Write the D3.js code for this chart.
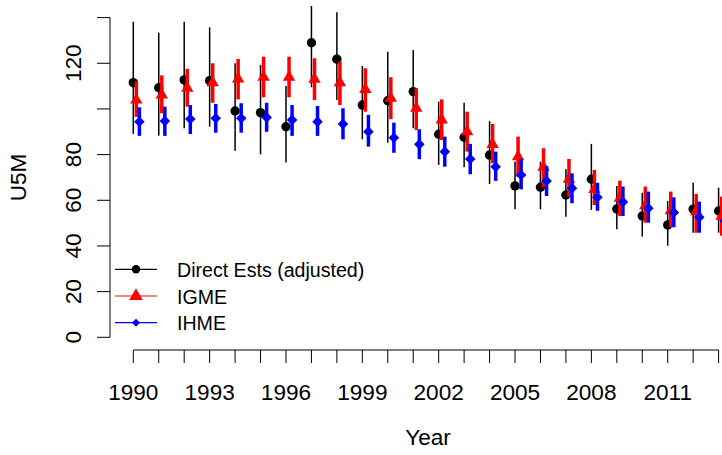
<!DOCTYPE html>
<html>
<head>
<meta charset="utf-8">
<script src="https://cdn.jsdelivr.net/npm/d3@7"></script>
<style>
  html, body { margin: 0; padding: 0; background: #fff; }
  svg { display: block; font-family: "Liberation Sans", Arial, sans-serif; }
</style>
</head>
<body>
<svg id="chart" width="722" height="455"></svg>
<script>
// Under-five mortality (per 1000) by year, three sources with uncertainty bounds
const years = d3.range(1990, 2014);

const directEst = [111.5, 109.3, 112.7, 112.4, 99.1, 98.4, 92.2, 129.0, 121.8, 101.7, 103.6, 107.6,
                   88.9, 87.6, 79.8, 66.3, 65.7, 62.3, 69.2, 56.2, 53.1, 49.2, 56.1, 55.3];
const directLo  = [89.0, 88.3, 91.5, 92.2, 81.7, 80.1, 76.5, 109.5, 103.9, 86.7, 85.2, 91.5,
                   75.5, 74.5, 67.1, 56.1, 56.1, 52.8, 55.8, 47.3, 44.1, 40.1, 45.8, 45.8];
const directHi  = [138.2, 133.4, 138.2, 135.8, 120.0, 119.3, 110.1, 145.1, 142.3, 118.8, 125.1, 125.8,
                   103.2, 102.7, 94.7, 77.0, 76.9, 73.6, 84.7, 66.3, 63.3, 59.7, 67.7, 65.5];

const igme   = [103.9, 106.1, 109.1, 111.5, 113.1, 113.9, 113.9, 113.0, 111.5, 108.6, 104.7, 100.3,
                95.2, 90.0, 84.5, 79.1, 74.5, 69.2, 64.8, 60.9, 57.6, 55.4, 55.0, 53.0];
const igmeLo = [96.5, 98.1, 101.0, 102.7, 104.2, 105.1, 105.1, 103.9, 101.7, 98.8, 95.5, 90.8,
                86.4, 81.3, 76.2, 70.3, 65.7, 61.6, 57.9, 53.1, 50.2, 48.2, 45.8, 44.5];
const igmeHi = [112.0, 114.7, 117.6, 120.0, 121.9, 122.9, 122.9, 122.2, 120.7, 117.8, 113.9, 109.0,
                104.2, 98.8, 93.4, 87.9, 82.8, 78.1, 73.3, 68.6, 66.0, 63.8, 62.8, 61.6];

const ihme   = [94.4, 94.7, 95.6, 95.9, 95.9, 96.3, 95.2, 94.4, 93.4, 90.0, 87.4, 84.5,
                81.3, 78.1, 74.7, 71.1, 68.5, 65.3, 61.3, 59.3, 56.5, 54.6, 52.6, 51.0];
const ihmeLo = [88.2, 88.2, 89.0, 89.6, 89.6, 90.0, 88.2, 88.2, 86.7, 83.5, 80.8, 78.0,
                74.7, 71.4, 68.5, 64.8, 61.9, 58.7, 55.4, 53.1, 50.2, 48.2, 45.8, 44.5];
const ihmeHi = [100.7, 101.0, 101.7, 102.2, 102.5, 102.7, 101.7, 101.3, 100.3, 97.4, 94.0, 91.1,
                87.9, 84.7, 81.3, 78.0, 75.0, 71.8, 67.7, 66.0, 63.8, 61.3, 59.4, 58.0];

const xTickValues = d3.range(1990, 2014);
const xTickLabels = [1990, 1993, 1996, 1999, 2002, 2005, 2008, 2011];
const yTickValues = [0, 20, 40, 60, 80, 100, 120, 140];
const yTickLabels = [0, 20, 40, 60, 80, 120];

const seriesNames = ["Direct Ests (adjusted)", "IGME", "IHME"];
const seriesColors = ["#000000", "#ff0000", "#0000ff"];

const svg = d3.select("#chart");

const x = d3.scaleLinear().domain([1990, 2013]).range([133.3, 718.6]);
const y = d3.scaleLinear().domain([0, 140]).range([337.3, 17.6]);

const AXIS_FONT = 22.6;

// ---- axes ----
const yAxisX = 110;
const xAxisY = 350;

const gy = svg.append("g").attr("transform", `translate(${yAxisX},0)`);
gy.append("line")
  .attr("x1", 0).attr("x2", 0)
  .attr("y1", y(0)).attr("y2", y(140))
  .attr("stroke", "#000").attr("stroke-width", 1);
gy.selectAll("line.tick").data(yTickValues).join("line")
  .attr("class", "tick")
  .attr("x1", 0).attr("x2", -13)
  .attr("y1", d => y(d)).attr("y2", d => y(d))
  .attr("stroke", "#000").attr("stroke-width", 1);
svg.selectAll("text.ylab").data(yTickLabels).join("text")
  .attr("class", "ylab")
  .attr("transform", d => `translate(80.5,${y(d)}) rotate(-90)`)
  .attr("text-anchor", "middle")
  .attr("font-size", AXIS_FONT)
  .attr("fill", "#000")
  .text(d => d);

const gx = svg.append("g").attr("transform", `translate(0,${xAxisY})`);
gx.append("line")
  .attr("x1", x(1990)).attr("x2", x(2013))
  .attr("y1", 0).attr("y2", 0)
  .attr("stroke", "#000").attr("stroke-width", 1);
gx.selectAll("line.tick").data(xTickValues).join("line")
  .attr("class", "tick")
  .attr("x1", d => x(d)).attr("x2", d => x(d))
  .attr("y1", 0).attr("y2", 13)
  .attr("stroke", "#000").attr("stroke-width", 1);
svg.selectAll("text.xlab").data(xTickLabels).join("text")
  .attr("class", "xlab")
  .attr("x", d => x(d))
  .attr("y", 399.5)
  .attr("text-anchor", "middle")
  .attr("font-size", AXIS_FONT)
  .attr("fill", "#000")
  .text(d => d);

// axis titles
svg.append("text")
  .attr("transform", "translate(25.5,177.5) rotate(-90)")
  .attr("text-anchor", "middle")
  .attr("font-size", AXIS_FONT)
  .text("U5M");
svg.append("text")
  .attr("x", 428).attr("y", 445)
  .attr("text-anchor", "middle")
  .attr("font-size", AXIS_FONT)
  .text("Year");

// ---- marker shapes ----
function triPath(cx, cy, half) {
  // equilateral-ish triangle centred on its centroid
  const r = half / 1.3468 * 1.5551;
  return `M${cx},${cy - r}L${cx + half},${cy + r / 2}L${cx - half},${cy + r / 2}Z`;
}
function diamondPath(cx, cy, h) {
  return `M${cx - h},${cy}L${cx},${cy - h}L${cx + h},${cy}L${cx},${cy + h}Z`;
}

// ---- series ----
const plot = svg.append("g");

function drawSeries(vals, lo, hi, offset, color, barWidth, shape) {
  const g = plot.append("g");
  const rows = years.map((yr, i) => ({ yr, v: vals[i], lo: lo[i], hi: hi[i] }));
  g.selectAll("line").data(rows).join("line")
    .attr("x1", d => x(d.yr + offset)).attr("x2", d => x(d.yr + offset))
    .attr("y1", d => y(d.lo)).attr("y2", d => y(d.hi))
    .attr("stroke", color).attr("stroke-width", barWidth);
  if (shape === "circle") {
    g.selectAll("circle").data(rows).join("circle")
      .attr("cx", d => x(d.yr + offset)).attr("cy", d => y(d.v))
      .attr("r", 4.7).attr("fill", color);
  } else if (shape === "triangle") {
    g.selectAll("path").data(rows).join("path")
      .attr("d", d => triPath(x(d.yr + offset), y(d.v), 6.2))
      .attr("fill", color);
  } else {
    g.selectAll("path").data(rows).join("path")
      .attr("d", d => diamondPath(x(d.yr + offset), y(d.v), 5.3))
      .attr("fill", color);
  }
}

drawSeries(directEst, directLo, directHi, 0, seriesColors[0], 1.5, "circle");
drawSeries(igme, igmeLo, igmeHi, 0.12, seriesColors[1], 3.5, "triangle");
drawSeries(ihme, ihmeLo, ihmeHi, 0.24, seriesColors[2], 3.5, "diamond");

// ---- legend ----
const legendRows = [269.3, 296, 322.7];
const lg = svg.append("g");
seriesNames.forEach((name, i) => {
  const ly = legendRows[i];
  lg.append("line")
    .attr("x1", 115).attr("x2", 157).attr("y1", ly).attr("y2", ly)
    .attr("stroke", seriesColors[i]).attr("stroke-width", 1.2);
  if (i === 0) {
    lg.append("circle").attr("cx", 136).attr("cy", ly).attr("r", 4.2).attr("fill", seriesColors[i]);
  } else if (i === 1) {
    lg.append("path").attr("d", triPath(136, ly, 6.8)).attr("fill", seriesColors[i]);
  } else {
    lg.append("path").attr("d", diamondPath(136, ly, 4)).attr("fill", seriesColors[i]);
  }
  lg.append("text")
    .attr("x", 177).attr("y", ly + 7.6)
    .attr("font-size", 19.6)
    .attr("fill", "#000")
    .text(name);
});
</script>
</body>
</html>
